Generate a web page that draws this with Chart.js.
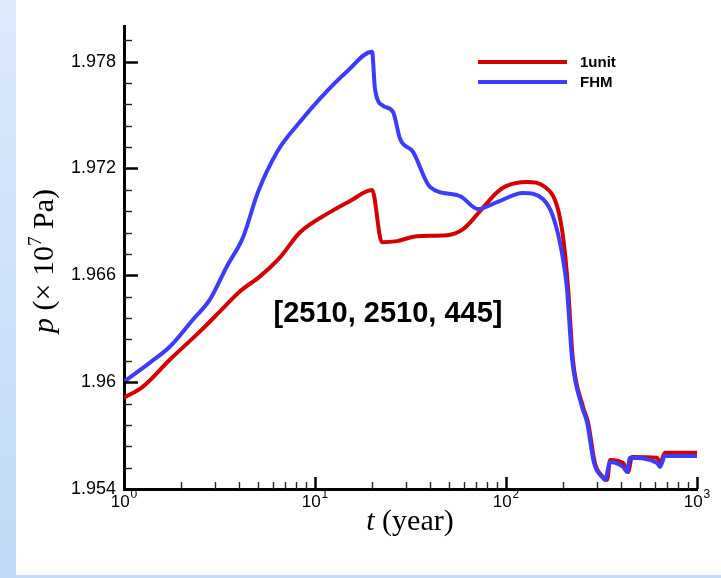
<!DOCTYPE html>
<html>
<head>
<meta charset="utf-8">
<script src="https://cdn.jsdelivr.net/npm/chart.js@4/dist/chart.umd.min.js"></script>
<style>
  html, body { margin: 0; padding: 0; }
  body { width: 721px; height: 578px; position: relative; overflow: hidden; background: #c2dbf7; }
  #strip { position: absolute; left: 0; top: 0; width: 16px; height: 578px; background: linear-gradient(#dbe9fb, #bfd9f6); }
  #panel { position: absolute; left: 16px; top: 0; width: 705px; height: 575px; background: #fff; }
  #wrap { position: absolute; left: 0; top: 0; width: 721px; height: 578px; }
</style>
</head>
<body>
<div id="strip"></div>
<div id="panel"></div>
<div id="wrap"><canvas id="chart" width="721" height="578"></canvas></div>
<script>
/* data */
const tRed = [1, 1.257, 1.741, 2.50, 3.18, 4.05, 5.15, 6.56, 8.35, 11.98,
  15.25, 19.9, 22.4, 26.9, 34.2, 49.1, 59.6, 73.1, 89.8, 100,
  128.8, 160, 185, 198.7, 211, 224, 253, 269, 292, 322,
  338, 351, 410, 436, 457, 618, 640, 680, 1000];
const pRed = [1.95913, 1.95975, 1.96127, 1.96285, 1.96397, 1.96510, 1.96594, 1.96701, 1.96842, 1.96955,
  1.97017, 1.97079, 1.96786, 1.96792, 1.96820, 1.96825, 1.96859, 1.96960, 1.97067, 1.97101,
  1.97124, 1.97096, 1.96989, 1.96820, 1.96538, 1.96127, 1.95862, 1.95772, 1.95546, 1.95468,
  1.95451, 1.95563, 1.95546, 1.95496, 1.95580, 1.95575, 1.95546, 1.95603, 1.95603];

const tBlue = [1, 1.368, 1.741, 2.297, 2.82, 3.46, 4.20, 5.03, 6.33, 8.35,
  10.62, 14.7, 19.9, 20.6, 22.7, 25.6, 27.9, 32.6, 40.0, 57.4,
  71.3, 89.8, 122.7, 156, 176, 196, 208, 222, 250, 266,
  289, 318, 330, 351, 410, 430, 446, 618, 640, 680, 1000];
const pBlue = [1.96003, 1.96110, 1.96200, 1.96352, 1.96465, 1.96651, 1.96814, 1.97068, 1.97293, 1.97462,
  1.97592, 1.97744, 1.97856, 1.97648, 1.97552, 1.97518, 1.97366, 1.97293, 1.97096, 1.97045,
  1.96972, 1.97011, 1.97062, 1.97028, 1.96932, 1.96730, 1.96538, 1.96127, 1.95862, 1.95772,
  1.95546, 1.95468, 1.95451, 1.95552, 1.95524, 1.95496, 1.95575, 1.95546, 1.95524, 1.95586, 1.95586];

const seriesNames = ["1unit", "FHM"];
const seriesColors = ["#d40000", "#3c3cff"];

const yMajor = [1.954, 1.96, 1.966, 1.972, 1.978];
const yTickLabels = ["1.954", "1.96", "1.966", "1.972", "1.978"];
const xMajor = [1, 10, 100, 1000];
const xExponents = ["0", "1", "2", "3"];
const annotation = "[2510, 2510, 445]";

const SANS = "'Liberation Sans', Arial, sans-serif";
const SERIF = "'Liberation Serif', 'Times New Roman', serif";

function pts(ts, ps) {
  return ts.map((t, i) => ({ x: t, y: ps[i] }));
}

/* inward ticks, power labels, titles, legend, label */
const decor = {
  id: "decor",
  afterDraw(chart) {
    const { ctx, chartArea: a, scales: { x, y } } = chart;
    ctx.save();
    ctx.strokeStyle = "#000";

    // y ticks (minor every 0.0012)
    for (let k = 0; k <= 21; k++) {
      const py = Math.round(y.getPixelForValue(1.954 + k * 0.0012)) + 0.5;
      const major = k % 5 === 0;
      ctx.lineWidth = major ? 2.5 : 1.4;
      ctx.strokeStyle = major ? "#000" : "#222";
      ctx.beginPath();
      ctx.moveTo(a.left, py);
      ctx.lineTo(a.left + (major ? 14 : 8), py);
      ctx.stroke();
    }

    // x ticks
    for (let d = 1; d <= 1000; d *= 10) {
      for (let m = 1; m <= 9; m++) {
        const v = d * m;
        if (v > 1000) break;
        const px = Math.round(x.getPixelForValue(v)) + 0.5;
        const major = m === 1;
        ctx.lineWidth = major ? 2.5 : 1.4;
        ctx.strokeStyle = major ? "#000" : "#222";
        ctx.beginPath();
        ctx.moveTo(px, a.bottom);
        ctx.lineTo(px, a.bottom - (major ? 12 : 7));
        ctx.stroke();
      }
    }

    // x labels as 10 with a raised exponent
    ctx.fillStyle = "#000";
    ctx.textAlign = "left";
    ctx.textBaseline = "alphabetic";
    xMajor.forEach((v, i) => {
      const px = x.getPixelForValue(v);
      ctx.font = "17px " + SANS;
      const wb = ctx.measureText("10").width;
      ctx.font = "12px " + SANS;
      const we = ctx.measureText(xExponents[i]).width;
      const left = px - (wb + 1 + we) / 2;
      ctx.font = "17px " + SANS;
      ctx.fillText("10", left, a.bottom + 18);
      ctx.font = "12px " + SANS;
      ctx.fillText(xExponents[i], left + wb + 1, a.bottom + 9);
    });

    // legend
    ctx.lineWidth = 4;
    ctx.textBaseline = "middle";
    ctx.font = "bold 15px " + SANS;
    seriesNames.forEach((name, i) => {
      const ly = 62 + i * 20;
      ctx.strokeStyle = seriesColors[i];
      ctx.beginPath();
      ctx.moveTo(478, ly);
      ctx.lineTo(567, ly);
      ctx.stroke();
      ctx.fillStyle = "#000";
      ctx.fillText(name, 580, ly + 1);
    });

    // case label
    ctx.font = "bold 29px " + SANS;
    ctx.textAlign = "center";
    ctx.textBaseline = "alphabetic";
    ctx.fillText(annotation, 388, 322);

    // titles with italic symbol and superscript
    function mixed(parts, cx, cy, rot) {
      ctx.save();
      ctx.translate(cx, cy);
      ctx.rotate(rot);
      ctx.textAlign = "left";
      ctx.textBaseline = "alphabetic";
      let w = 0;
      parts.forEach(p => { ctx.font = p.font; w += ctx.measureText(p.text).width; });
      let cur = -w / 2;
      parts.forEach(p => {
        ctx.font = p.font;
        ctx.fillText(p.text, cur, p.dy || 0);
        cur += ctx.measureText(p.text).width;
      });
      ctx.restore();
    }
    ctx.fillStyle = "#000";
    mixed([
      { text: "t", font: "italic 30px " + SERIF },
      { text: " (year)", font: "30px " + SERIF }
    ], 410, 530, 0);
    mixed([
      { text: "p", font: "italic 30px " + SERIF },
      { text: " (\u00d7 10", font: "30px " + SERIF },
      { text: "7", font: "19px " + SERIF, dy: -12 },
      { text: " Pa)", font: "30px " + SERIF }
    ], 53, 261, -Math.PI / 2);

    ctx.restore();
  }
};

new Chart(document.getElementById("chart"), {
  type: "line",
  data: {
    datasets: [
      {
        label: seriesNames[0],
        data: pts(tRed, pRed),
        borderColor: seriesColors[0],
        borderWidth: 4,
        pointRadius: 0,
        cubicInterpolationMode: "monotone",
        order: 1
      },
      {
        label: seriesNames[1],
        data: pts(tBlue, pBlue),
        borderColor: seriesColors[1],
        borderWidth: 4,
        pointRadius: 0,
        cubicInterpolationMode: "monotone",
        order: 0
      }
    ]
  },
  options: {
    responsive: false,
    animation: false,
    events: [],
    layout: { padding: { top: 26, right: 24, left: 0, bottom: 0 } },
    plugins: { legend: { display: false }, tooltip: { enabled: false } },
    scales: {
      x: {
        type: "logarithmic",
        min: 1,
        max: 1000,
        afterBuildTicks: s => { s.ticks = xMajor.map(v => ({ value: v })); },
        afterFit: s => { s.height = 89; },
        grid: { display: false, drawTicks: false },
        border: { display: true, color: "#000", width: 3 },
        ticks: { display: false }
      },
      y: {
        min: 1.954,
        max: 1.980,
        afterBuildTicks: s => { s.ticks = yMajor.map(v => ({ value: v })); },
        afterFit: s => { s.width = 124; },
        grid: { display: false, drawTicks: false },
        border: { display: true, color: "#000", width: 3 },
        ticks: {
          autoSkip: false,
          padding: 8,
          color: "#000",
          font: { family: SANS, size: 18 },
          callback: (v, i) => yTickLabels[i]
        }
      }
    }
  },
  plugins: [decor]
});
</script>
</body>
</html>
